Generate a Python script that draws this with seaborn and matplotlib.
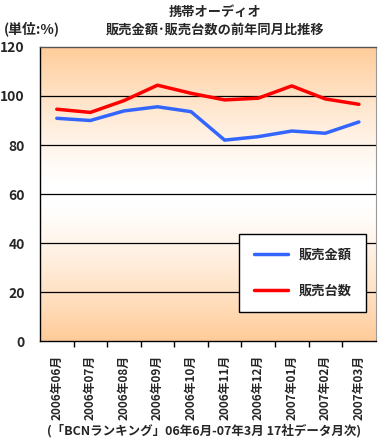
import matplotlib
matplotlib.use('Agg')
import matplotlib.pyplot as plt
import numpy as np
import pandas as pd
import seaborn as sns
from matplotlib.colors import LinearSegmentedColormap

sns.set_style('white')
plt.rcParams['font.family'] = ['Noto Sans CJK JP', 'DejaVu Sans']

# Data
months = ['2006年06月', '2006年07月', '2006年08月', '2006年09月', '2006年10月',
          '2006年11月', '2006年12月', '2007年01月', '2007年02月', '2007年03月']
sales_amount = [90.9, 90.0, 93.9, 95.6, 93.6, 82.0, 83.4, 85.7, 84.8, 89.4]
sales_units = [94.6, 93.3, 98.1, 104.4, 101.1, 98.4, 99.1, 104.1, 98.8, 96.6]

df = pd.DataFrame({
    'pos': list(range(len(months))) * 2,
    'value': sales_amount + sales_units,
    'series': ['販売金額'] * len(months) + ['販売台数'] * len(months),
})

fig = plt.figure(figsize=(3.81, 4.43), dpi=100)
ax = fig.add_axes([0.105, 0.230, 0.881, 0.664])

# gradient background (peach at top/bottom, white in middle)
t = np.linspace(0, 1, 200)
g = np.abs(t - 0.5) * 2
g = np.clip((g - 0.05) / 0.95, 0, 1) ** 1.3
cmap = LinearSegmentedColormap.from_list('pk', ['#FFFFFF', '#FFCC99'])
ax.imshow(g.reshape(-1, 1), extent=[-0.5, 9.5, 0, 120], aspect='auto',
          cmap=cmap, vmin=0, vmax=1, zorder=0, origin='lower')

sns.lineplot(data=df, x='pos', y='value', hue='series',
             palette={'販売金額': '#3366FF', '販売台数': '#FF0000'},
             linewidth=2.5, ax=ax, zorder=3)

ax.set_xlim(-0.5, 9.5)
ax.set_ylim(0, 120)
ax.set_yticks(range(0, 121, 20))
for y in range(20, 120, 20):
    ax.axhline(y, color='black', linewidth=0.9, zorder=1)
ax.set_yticklabels([str(v) for v in range(0, 121, 20)], fontsize=10, fontweight='bold')
ax.tick_params(axis='y', length=0, pad=11)

ax.set_xticks(range(len(months)))
ax.set_xticklabels(months, rotation=90, fontsize=8.5, fontweight='bold')
ax.tick_params(axis='x', length=0, pad=10)
ax.set_xticks(np.arange(0.5, 9.5, 1), minor=True)
ax.tick_params(axis='x', which='minor', length=4, width=1, color='black', direction='out')
ax.xaxis.set_tick_params(which='minor', bottom=True)
ax.set_xlabel('')
ax.set_ylabel('')

for s in ['left', 'bottom', 'top']:
    ax.spines[s].set_color('black')
    ax.spines[s].set_linewidth(1)
ax.spines['top'].set_color('#555555')
ax.spines['right'].set_color('#999999')

leg = ax.legend(loc='lower right', bbox_to_anchor=(0.972, 0.1), fontsize=9.5,
                frameon=True, fancybox=False, edgecolor='black', framealpha=1,
                labelspacing=1.6, borderpad=1.1, handlelength=2.6, borderaxespad=0)
leg.get_frame().set_linewidth(1)
for txt in leg.get_texts():
    txt.set_fontweight('bold')

fig.text(0.565, 0.972, '携帯オーディオ', ha='center', va='center', fontsize=9.5, fontweight='bold')
fig.text(0.565, 0.934, '販売金額･販売台数の前年同月比推移', ha='center', va='center',
         fontsize=9.5, fontweight='bold')
fig.text(0.010, 0.936, '(単位:%)', ha='left', va='center', fontsize=10, fontweight='bold')
fig.text(0.535, 0.028, '(「BCNランキング」06年6月-07年3月 17社データ月次)', ha='center',
         va='center', fontsize=9, fontweight='bold')

fig.savefig('out.png', dpi=100)
